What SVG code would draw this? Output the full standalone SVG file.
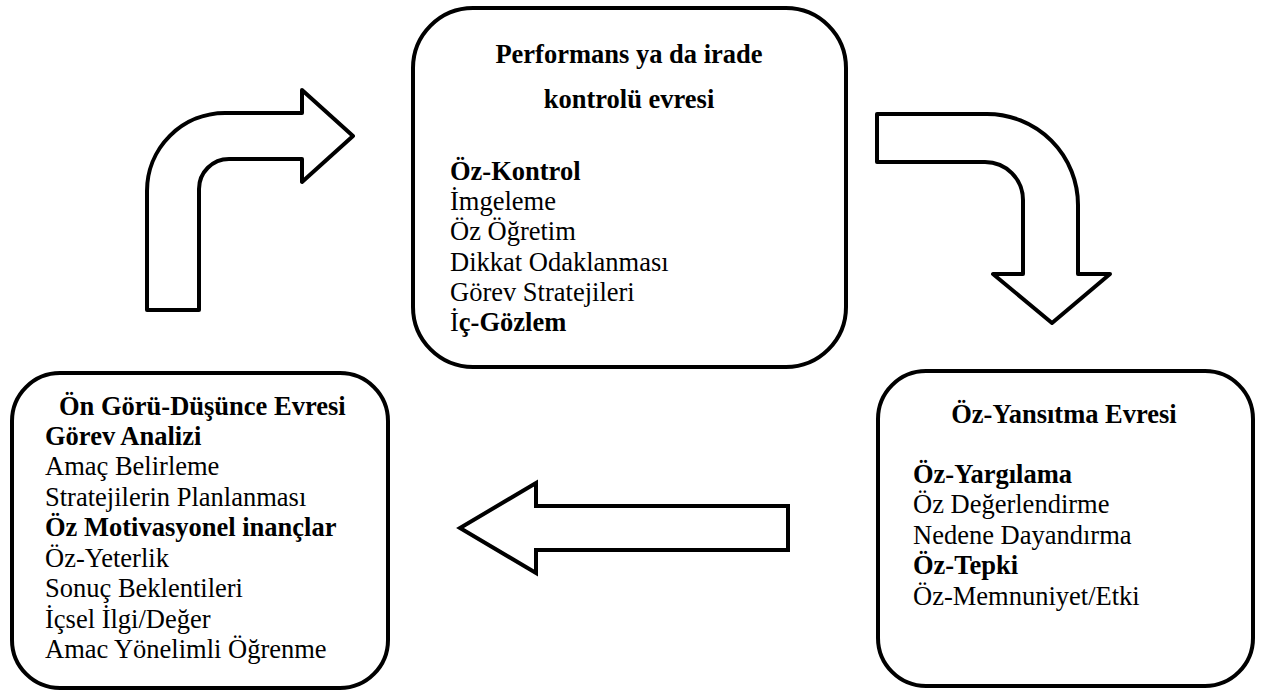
<svg xmlns="http://www.w3.org/2000/svg" width="1262" height="696" viewBox="0 0 1262 696">
<style>
.box{fill:#fff;stroke:#000;stroke-width:4}
.arr{fill:#fff;stroke:#000;stroke-width:4}
.t{font-family:'Liberation Serif', 'Times New Roman', 'DejaVu Serif', serif;font-size:26.5px;fill:#000}
.b{font-weight:bold}
</style>
<rect width="1262" height="696" fill="#fff"/>
<g id="connectors">
<path class="arr" stroke-linejoin="round" d="M147,310 V191 A78,78 0 0 1 225,113 H302 V90 L353,136 L302,182 V159 H229 A30,30 0 0 0 199,189 V310 Z"/>
<path class="arr" stroke-linejoin="round" d="M877,114 H987 A91,91 0 0 1 1078,205 V274 H1110 L1052,323 L993,274 H1023 V200 A38,38 0 0 0 985,162 H877 Z"/>
<path class="arr" stroke-linejoin="miter" d="M788,506 H536 V483 L460,528 L536,573 V550 H788 Z"/>
</g>
<g id="node-performance" class="t" font-family="Liberation Serif, serif">
<rect class="box" x="413" y="8" width="433" height="359" rx="60" ry="60"/>
<text class="b" x="629" y="63" text-anchor="middle">Performans ya da irade</text>
<text class="b" x="629" y="108" text-anchor="middle">kontrolü evresi</text>
<text class="b" x="450" y="180">Öz-Kontrol</text>
<text x="450" y="210">İmgeleme</text>
<text x="450" y="240">Öz Öğretim</text>
<text x="450" y="271">Dikkat Odaklanması</text>
<text x="450" y="301">Görev Stratejileri</text>
<text x="450" y="331"><tspan>İ</tspan><tspan class="b">ç-Gözlem</tspan></text>
</g>
<g id="node-forethought" class="t" font-family="Liberation Serif, serif">
<rect class="box" x="12" y="373" width="376" height="315" rx="48" ry="48"/>
<text class="b" x="59" y="415">Ön Görü-Düşünce Evresi</text>
<text class="b" x="45" y="445">Görev Analizi</text>
<text x="45" y="475">Amaç Belirleme</text>
<text x="45" y="506">Stratejilerin Planlanması</text>
<text class="b" x="45" y="536">Öz Motivasyonel inançlar</text>
<text x="45" y="567">Öz-Yeterlik</text>
<text x="45" y="597">Sonuç Beklentileri</text>
<text x="45" y="628">İçsel İlgi/Değer</text>
<text x="45" y="658">Amac Yönelimli Öğrenme</text>
</g>
<g id="node-reflection" class="t" font-family="Liberation Serif, serif">
<rect class="box" x="878" y="371" width="375" height="315" rx="48" ry="48"/>
<text class="b" x="1064" y="423" text-anchor="middle">Öz-Yansıtma Evresi</text>
<text class="b" x="913" y="483">Öz-Yargılama</text>
<text x="913" y="513">Öz Değerlendirme</text>
<text x="913" y="544">Nedene Dayandırma</text>
<text class="b" x="913" y="574">Öz-Tepki</text>
<text x="913" y="605">Öz-Memnuniyet/Etki</text>
</g>
</svg>
